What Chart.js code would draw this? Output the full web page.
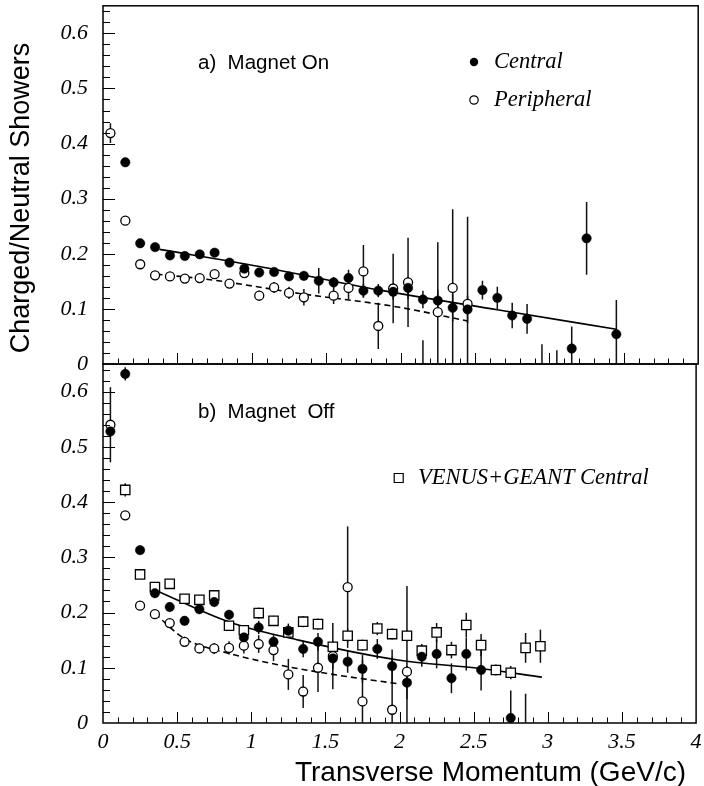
<!DOCTYPE html>
<html><head><meta charset="utf-8">
<script src="https://cdn.jsdelivr.net/npm/chart.js@4.4.1/dist/chart.umd.min.js"></script>
<style>
html,body{margin:0;padding:0;background:#fff;width:704px;height:786px;overflow:hidden;}
#wrap{position:relative;width:704px;height:786px;}
canvas{position:absolute;left:0;}
#cTop{top:0px;}
#cBot{top:354px;}
</style></head><body>
<div id="wrap">
<canvas id="cTop" width="704" height="384"></canvas>
<canvas id="cBot" width="704" height="432"></canvas>
</div>
<script>
// ---------- axis definitions ----------
const X_MIN = 0, X_MAX = 4, Y_MIN = 0, Y_MAX = 0.65;
const xTicks = [0, 0.5, 1, 1.5, 2, 2.5, 3, 3.5, 4];
const xTickLabels = ['0', '0.5', '1', '1.5', '2', '2.5', '3', '3.5', '4'];
const yTicks = [0, 0.1, 0.2, 0.3, 0.4, 0.5, 0.6];
const yTickLabels = ['0', '0.1', '0.2', '0.3', '0.4', '0.5', '0.6'];
const xMinorStep = 0.1, yMinorStep = 0.02;

// ---------- panel a) Magnet On ----------
const topCentralX = [0.15,0.25,0.35,0.45,0.55,0.65,0.75,0.85,0.95,1.05,1.15,1.25,1.35,1.45,1.55,1.65,1.75,1.85,1.95,2.05,2.15,2.25,2.35,2.45,2.55,2.65,2.75,2.85,2.95,3.05,3.15,3.25,3.45];
const topCentralY = [0.366,0.219,0.212,0.197,0.196,0.199,0.202,0.184,0.173,0.166,0.167,0.159,0.160,0.151,0.148,0.156,0.133,0.133,0.131,0.138,0.117,0.115,0.102,0.099,0.134,0.120,0.088,0.082,-0.02,-0.02,0.028,0.228,0.054];
const topCentralErr = [0.006,0.005,0.005,0.005,0.005,0.005,0.005,0.006,0.006,0.007,0.007,0.008,0.008,0.023,0.010,0.015,0.012,0.012,0.014,0.020,0.016,0.020,0.025,0.025,0.017,0.020,0.023,0.027,0.056,0.045,0.040,0.066,0.062];

const topPeriphX = [0.05,0.15,0.25,0.35,0.45,0.55,0.65,0.75,0.85,0.95,1.05,1.15,1.25,1.35,1.55,1.65,1.75,1.85,1.95,2.05,2.15,2.25,2.35,2.45];
const topPeriphY = [0.419,0.260,0.181,0.161,0.159,0.155,0.156,0.163,0.146,0.165,0.124,0.139,0.129,0.121,0.124,0.138,0.168,0.069,0.137,0.148,-0.02,0.094,0.138,0.109];
const topPeriphErr = [0.018,0.006,0.006,0.006,0.006,0.006,0.006,0.007,0.007,0.008,0.009,0.010,0.011,0.015,0.015,0.020,0.048,0.042,0.063,0.081,0.063,0.127,0.143,0.158];

const topFitCentralX = [0.38,1.05,1.86,2.66,3.45];
const topFitCentralY = [0.208,0.177,0.134,0.098,0.063];
const topFitPeriphX = [0.36,0.72,1.32,1.99,2.45];
const topFitPeriphY = [0.163,0.153,0.128,0.103,0.078];

// ---------- panel b) Magnet Off ----------
const botCentralX = [0.05,0.15,0.25,0.35,0.45,0.55,0.65,0.75,0.85,0.95,1.05,1.15,1.25,1.35,1.45,1.55,1.65,1.75,1.85,1.95,2.05,2.15,2.25,2.35,2.45,2.55,2.75,2.85];
const botCentralY = [0.528,0.632,0.313,0.235,0.210,0.185,0.206,0.219,0.196,0.155,0.173,0.147,0.167,0.134,0.147,0.117,0.111,0.098,0.134,0.103,0.073,0.120,0.125,0.081,0.125,0.096,0.009,-0.02];
const botCentralErr = [0.010,0.012,0.008,0.008,0.008,0.008,0.008,0.008,0.008,0.008,0.012,0.012,0.013,0.015,0.016,0.020,0.020,0.025,0.018,0.030,0.030,0.018,0.026,0.027,0.030,0.037,0.050,0.073];

const botPeriphX = [0.05,0.15,0.25,0.35,0.45,0.55,0.65,0.75,0.85,0.95,1.05,1.15,1.25,1.35,1.45,1.55,1.65,1.75,1.95,2.05];
const botPeriphY = [0.540,0.376,0.2125,0.197,0.181,0.147,0.135,0.135,0.136,0.140,0.143,0.132,0.088,0.057,0.100,0.121,0.246,0.039,0.024,0.093];
const botPeriphErr = [0.068,0.008,0.008,0.008,0.008,0.009,0.009,0.010,0.012,0.014,0.016,0.020,0.028,0.030,0.044,0.060,0.110,0.075,0.096,0.155];

const botSimX = [0.15,0.25,0.35,0.45,0.55,0.65,0.75,0.85,0.95,1.05,1.15,1.25,1.35,1.45,1.55,1.65,1.75,1.85,1.95,2.05,2.15,2.25,2.35,2.45,2.55,2.65,2.75,2.85,2.95];
const botSimY = [0.422,0.269,0.246,0.252,0.225,0.223,0.231,0.176,0.168,0.199,0.185,0.164,0.1835,0.179,0.138,0.158,0.141,0.171,0.161,0.158,0.131,0.164,0.132,0.1775,0.141,0.096,0.091,0.136,0.139];
const botSimErr = [0.012,0.006,0.006,0.006,0.006,0.007,0.010,0.007,0.008,0.010,0.009,0.009,0.010,0.010,0.010,0.012,0.010,0.012,0.010,0.010,0.012,0.017,0.015,0.022,0.020,0.010,0.012,0.027,0.030];

const botFitCentralX = [0.35,0.85,1.32,1.99,2.53,2.96];
const botFitCentralY = [0.241,0.183,0.150,0.114,0.099,0.083];
const botFitPeriphX = [0.35,0.55,0.85,1.17,1.55,1.99];
const botFitPeriphY = [0.198,0.153,0.126,0.106,0.088,0.071];

// ---------- helpers ----------
const SERIF_IT = "italic 22.5px 'Liberation Serif'";
const SANS = "'Liberation Sans'";
const R_FILLED = 4.7, R_OPEN = 4.5, R_SQUARE = 6.6;
function pts(xs, ys) { return xs.map((x, i) => ({x: x, y: ys[i]})); }

function markerDS(label, xs, ys, errs, kind) {
  return {label: label, data: pts(xs, ys), errors: errs, showLine: false,
    pointStyle: kind === 'square' ? 'rect' : 'circle',
    pointRadius: kind === 'square' ? R_SQUARE : (kind === 'filled' ? R_FILLED : R_OPEN),
    pointBackgroundColor: kind === 'filled' ? '#000' : '#fff',
    pointBorderColor: '#000',
    pointBorderWidth: kind === 'filled' ? 0.5 : 1.3,
    pointHoverRadius: 0};
}
function fitDS(label, xs, ys, dashed) {
  return {label: label, data: pts(xs, ys), showLine: true, borderColor: '#000', borderWidth: 1.6,
    borderDash: dashed ? [6, 4] : [], pointRadius: 0, pointHoverRadius: 0, tension: 0.4,
    cubicInterpolationMode: 'monotone', fill: false};
}
function drawMarker(ctx, kind, x, y) {
  ctx.save();
  ctx.strokeStyle = '#000';
  if (kind === 'square') {
    ctx.lineWidth = 1.2; ctx.fillStyle = '#fff';
    ctx.beginPath(); ctx.rect(x - 4.5, y - 4.5, 9, 9); ctx.fill(); ctx.stroke();
  } else {
    ctx.beginPath(); ctx.arc(x, y, 4.2, 0, Math.PI * 2);
    if (kind === 'filled') { ctx.fillStyle = '#000'; ctx.fill(); }
    else { ctx.fillStyle = '#fff'; ctx.fill(); ctx.lineWidth = 1.2; ctx.stroke(); }
  }
  ctx.restore();
}

const panelPlugin = {
  id: 'panel',
  beforeDatasetsDraw(chart) {
    const ctx = chart.ctx, a = chart.chartArea, xs = chart.scales.x, ys = chart.scales.y;
    ctx.save();
    ctx.beginPath(); ctx.rect(a.left, a.top, a.right - a.left, a.bottom - a.top); ctx.clip();
    ctx.strokeStyle = '#111'; ctx.lineWidth = 1.5;
    chart.data.datasets.forEach(ds => {
      if (!ds.errors) return;
      ds.data.forEach((p, j) => {
        const e = ds.errors[j];
        if (!e) return;
        const px = xs.getPixelForValue(p.x);
        ctx.beginPath();
        ctx.moveTo(px, ys.getPixelForValue(p.y + e));
        ctx.lineTo(px, ys.getPixelForValue(p.y - e));
        ctx.stroke();
      });
    });
    ctx.restore();
  },
  afterDraw(chart) {
    const ctx = chart.ctx, a = chart.chartArea, xs = chart.scales.x, ys = chart.scales.y;
    const isTop = chart.canvas.id === 'cTop';
    ctx.save();
    ctx.strokeStyle = '#000';
    // ticks on the left axis (pointing inside)
    ctx.lineWidth = 1;
    const nY = Math.floor((Y_MAX - Y_MIN) / yMinorStep + 1e-6);
    for (let i = 1; i <= nY; i++) {
      const v = Y_MIN + i * yMinorStep;
      const py = Math.round(ys.getPixelForValue(v)) + 0.5;
      const len = (i % 5 === 0) ? 12 : 7;
      ctx.beginPath(); ctx.moveTo(a.left, py); ctx.lineTo(a.left + len, py); ctx.stroke();
    }
    // ticks on the bottom axis (pointing up)
    const nX = Math.round((X_MAX - X_MIN) / xMinorStep);
    for (let i = 1; i < nX; i++) {
      const v = X_MIN + i * xMinorStep;
      const px = Math.round(xs.getPixelForValue(v)) + 0.5;
      const len = (i % 5 === 0) ? 11 : 5.5;
      ctx.beginPath(); ctx.moveTo(px, a.bottom); ctx.lineTo(px, a.bottom - len); ctx.stroke();
    }
    // frame
    ctx.lineWidth = 1.5;
    ctx.strokeRect(a.left, a.top, a.right - a.left, a.bottom - a.top);
    // texts
    ctx.fillStyle = '#000';
    ctx.textBaseline = 'middle';
    if (isTop) {
      ctx.font = "20.5px " + SANS; ctx.textAlign = 'left';
      ctx.fillText('a)  Magnet On', 198, 63);
      drawMarker(ctx, 'filled', 474, 62);
      drawMarker(ctx, 'open', 474, 100);
      ctx.font = SERIF_IT;
      ctx.fillText('Central', 494, 62);
      ctx.fillText('Peripheral', 494, 100);
      // y axis title
      ctx.save();
      ctx.translate(22, 198); ctx.rotate(-Math.PI / 2);
      ctx.font = "27px " + SANS; ctx.textAlign = 'center'; ctx.textBaseline = 'middle';
      ctx.fillText('Charged/Neutral Showers', 0, 0);
      ctx.restore();
    } else {
      ctx.font = "20.5px " + SANS; ctx.textAlign = 'left';
      ctx.fillText('b)  Magnet  Off', 198, 412 - 354);
      drawMarker(ctx, 'square', 398.7, 478 - 354);
      ctx.font = SERIF_IT;
      ctx.fillText('VENUS+GEANT Central', 418, 478 - 354);
      ctx.font = "28px " + SANS; ctx.textAlign = 'right';
      ctx.fillText('Transverse Momentum (GeV/c)', 686, 773 - 354);
    }
    ctx.restore();
  }
};

function makeChart(id, datasets, showXLabels, padding, xHeight) {
  return new Chart(document.getElementById(id), {
    type: 'scatter',
    data: {datasets: datasets},
    options: {
      responsive: false, animation: false, devicePixelRatio: 1,
      layout: {padding: padding},
      plugins: {legend: {display: false}, tooltip: {enabled: false}, title: {display: false}},
      events: [],
      scales: {
        x: {
          type: 'linear', min: X_MIN, max: X_MAX, display: showXLabels,
          grid: {display: false, drawTicks: false}, border: {display: false},
          afterBuildTicks: s => { s.ticks = xTicks.map(v => ({value: v})); },
          afterFit: s => { s.height = xHeight; s.paddingLeft = 0; s.paddingRight = 0; s.paddingTop = 0; s.paddingBottom = 0; },
          ticks: {autoSkip: false, maxRotation: 0, padding: 6, color: '#000',
            font: {family: 'Liberation Serif', style: 'italic', size: 22},
            callback: (v, i) => xTickLabels[i]}
        },
        y: {
          type: 'linear', min: Y_MIN, max: Y_MAX,
          grid: {display: false, drawTicks: false}, border: {display: false},
          afterBuildTicks: s => { s.ticks = yTicks.map(v => ({value: v})); },
          afterFit: s => { s.width = 103; s.paddingLeft = 0; s.paddingRight = 0; s.paddingTop = 0; s.paddingBottom = 0; },
          ticks: {padding: 15, color: '#000',
            font: {family: 'Liberation Serif', style: 'italic', size: 22},
            callback: (v, i) => yTickLabels[i]}
        }
      }
    },
    plugins: [panelPlugin]
  });
}

makeChart('cTop', [
  markerDS('Central', topCentralX, topCentralY, topCentralErr, 'filled'),
  markerDS('Peripheral', topPeriphX, topPeriphY, topPeriphErr, 'open'),
  fitDS('Central fit', topFitCentralX, topFitCentralY, false),
  fitDS('Peripheral fit', topFitPeriphX, topFitPeriphY, true)
], false, {top: 5, right: 4, bottom: 20, left: 0}, 0);

makeChart('cBot', [
  markerDS('Central', botCentralX, botCentralY, botCentralErr, 'filled'),
  markerDS('Peripheral', botPeriphX, botPeriphY, botPeriphErr, 'open'),
  markerDS('VENUS+GEANT Central', botSimX, botSimY, botSimErr, 'square'),
  fitDS('Central fit', botFitCentralX, botFitCentralY, false),
  fitDS('Peripheral fit', botFitPeriphX, botFitPeriphY, true)
], true, {top: 10, right: 4, bottom: 0, left: 0}, 63);
</script>
</body></html>
